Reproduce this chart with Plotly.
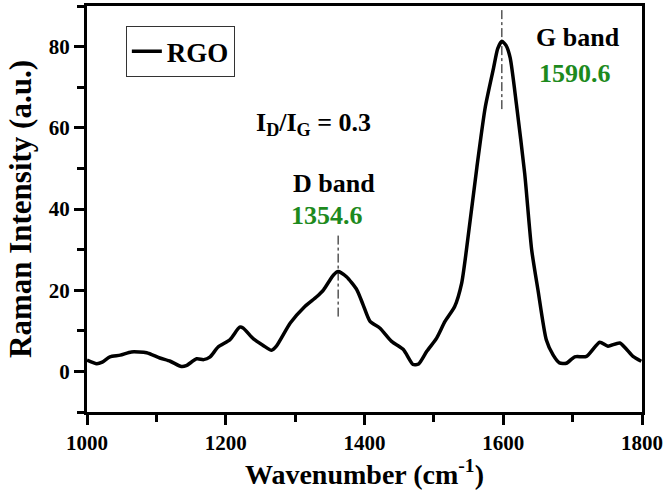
import plotly.graph_objects as go

wavenumber = [1000, 1014, 1022, 1033, 1048, 1064, 1086, 1105, 1120, 1136, 1143, 1158, 1168, 1177,
              1189, 1206, 1220, 1225, 1240, 1254, 1266, 1273, 1293, 1314, 1331, 1341, 1355, 1362,
              1374, 1389, 1398, 1408, 1422, 1439, 1456, 1470, 1478, 1490, 1504, 1516, 1530, 1540,
              1547, 1562, 1574, 1586, 1592, 1598, 1604, 1610, 1619, 1631, 1641, 1650, 1662, 1672,
              1681, 1691, 1703, 1720, 1739, 1751, 1768, 1787, 1799]
intensity = [2.8, 1.9, 2.3, 3.6, 4.0, 4.8, 4.6, 3.3, 2.5, 1.2, 1.4, 3.1, 2.9, 3.5,
             6.0, 7.8, 10.9, 10.7, 8.0, 6.4, 5.2, 6.2, 11.9, 16.0, 18.4, 20.1, 23.7, 24.6,
             23.3, 20.1, 16.4, 12.3, 10.7, 7.4, 5.4, 1.7, 1.8, 5.0, 8.2, 12.3, 16.0, 21.7,
             30.0, 50.3, 65.0, 74.7, 79.5, 81.3, 80.3, 77.2, 65.8, 48.6, 29.9, 20.1, 7.8, 4.0,
             2.1, 2.0, 3.6, 3.7, 7.2, 6.2, 7.0, 3.7, 2.5]

d_band_x = [1362, 1362]
d_band_y = [13.5, 33.5]
g_band_x = [1598, 1598]
g_band_y = [64.6, 89.1]

x_ticks = [1000, 1200, 1400, 1600, 1800]
y_ticks = [0, 20, 40, 60, 80]

FONT = "Liberation Serif"
GREEN = "#1d8a1d"

fig = go.Figure()
fig.add_trace(go.Scatter(x=wavenumber, y=intensity, mode="lines", name="RGO",
                         line=dict(color="black", width=3.5, shape="spline", smoothing=0.6)))
for xs, ys in [(d_band_x, d_band_y), (g_band_x, g_band_y)]:
    fig.add_trace(go.Scatter(x=xs, y=ys, mode="lines", showlegend=False,
                             line=dict(color="black", width=1, dash="dashdot")))

def ann(x, y, text, color="black", size=26):
    fig.add_annotation(x=x, y=y, xref="x", yref="y", text=text, showarrow=False,
                       font=dict(family=FONT, size=size, color=color, weight="bold"))

ann(1708, 82.3, "G band")
ann(1703, 73.4, "1590.6", GREEN)
ann(1356, 46.3, "D band")
ann(1346, 38.4, "1354.6", GREEN)
ann(1326, 61.0, "I<sub>D</sub>/I<sub>G</sub> = 0.3")

axis_common = dict(showline=True, linewidth=3, linecolor="black", mirror=True,
                   ticks="outside", tickwidth=3, ticklen=10, tickcolor="black",
                   showgrid=False, zeroline=False,
                   tickfont=dict(family=FONT, size=21, color="black", weight="bold"))

fig.update_xaxes(range=[1000, 1800], tickvals=x_ticks, **axis_common,
                 minor=dict(ticks="outside", ticklen=7, tickwidth=3, dtick=100, tickcolor="black", showgrid=False),
                 title=dict(text="Wavenumber (cm<sup>-1</sup>)", standoff=10,
                            font=dict(family=FONT, size=28, color="black", weight="bold")))
fig.update_yaxes(range=[-10, 90], tickvals=y_ticks, **axis_common,
                 minor=dict(ticks="outside", ticklen=7, tickwidth=3, dtick=10, tick0=0, tickcolor="black", showgrid=False),
                 title=dict(text="Raman Intensity (a.u.)", standoff=8,
                            font=dict(family=FONT, size=31, color="black", weight="bold")))

fig.update_layout(width=669, height=493, margin=dict(l=87, r=27, t=3, b=81),
                  plot_bgcolor="white", paper_bgcolor="white",
                  legend=dict(x=0.07, y=0.95, xanchor="left", yanchor="top",
                              bordercolor="#333333", borderwidth=1, bgcolor="white",
                              font=dict(family=FONT, size=27, color="black", weight="bold")))

fig.write_html("out.html")
